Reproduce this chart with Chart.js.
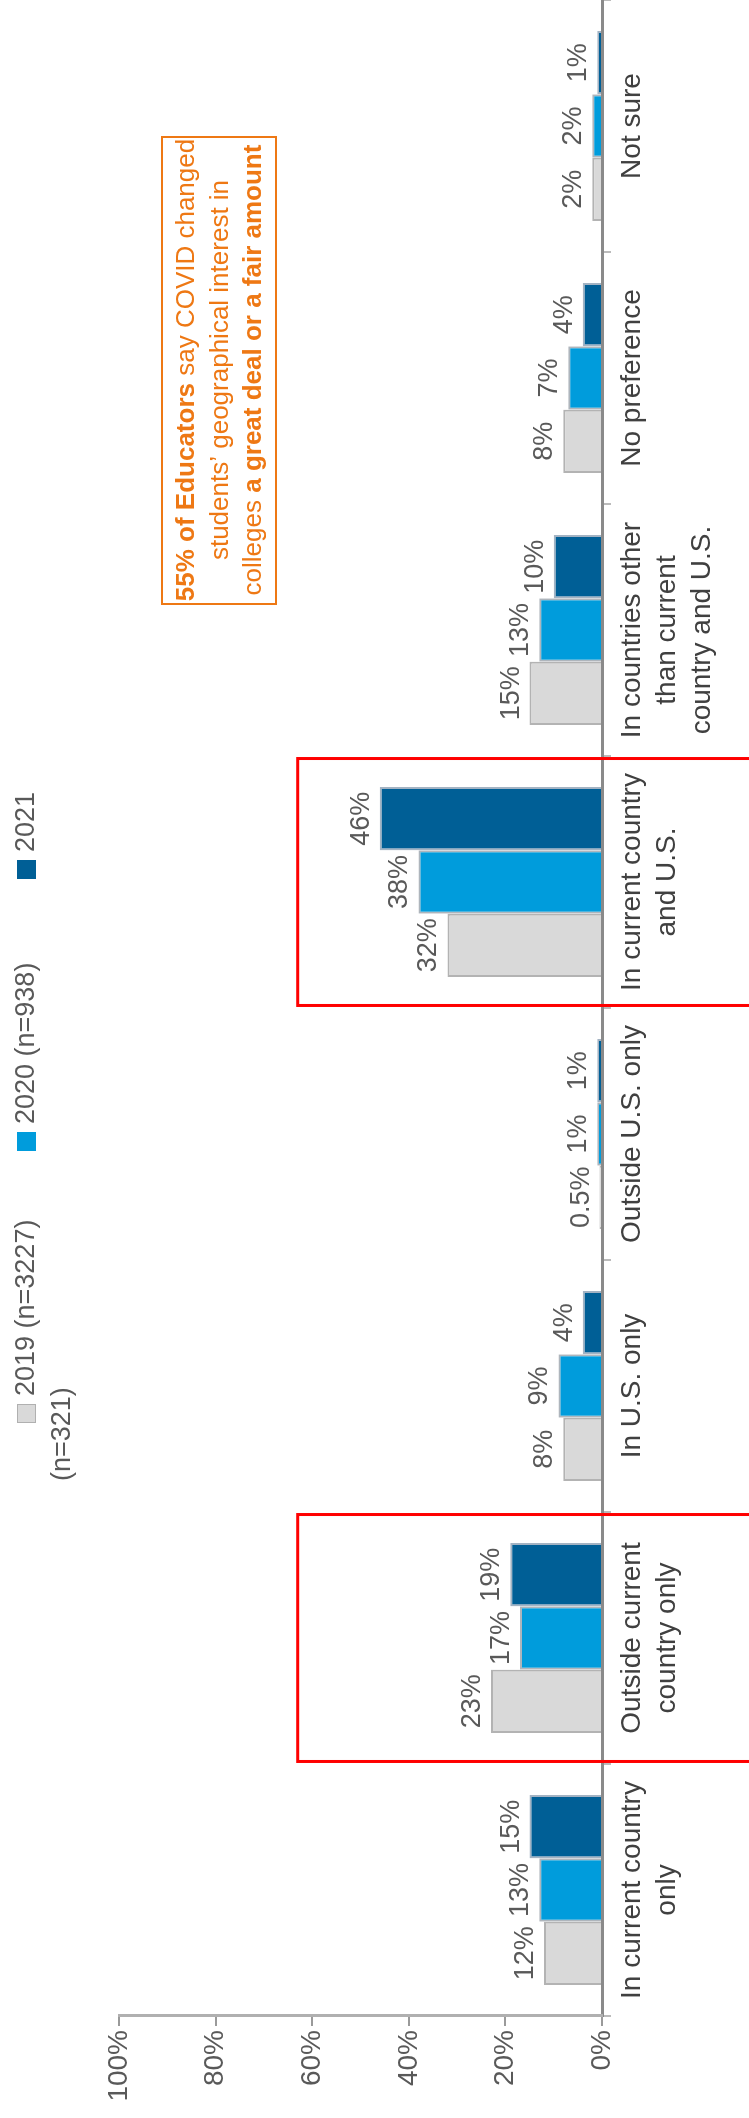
<!DOCTYPE html>
<html>
<head>
<meta charset="utf-8">
<script src="https://cdn.jsdelivr.net/npm/chart.js@4/dist/chart.umd.min.js"></script>
<style>
  html, body { margin: 0; padding: 0; background: #fff; }
  body { width: 749px; height: 2118px; overflow: hidden; position: relative; }
  /* chart is drawn flat (2118 wide) and turned a quarter left */
  #wrap {
    position: absolute; left: 0; top: 0;
    width: 2118px; height: 749px;
    transform-origin: 0 0;
    transform: translateY(2118px) rotate(-90deg);
  }
</style>
</head>
<body>
<div id="wrap"><canvas id="chart" width="2118" height="749"></canvas></div>
<script>
// data
const categories = [
  ["In current country", "only"],
  ["Outside current", "country only"],
  ["In U.S. only"],
  ["Outside U.S. only"],
  ["In current country", "and U.S."],
  ["In countries other", "than current", "country and U.S."],
  ["No preference"],
  ["Not sure"],
];
const seriesNames = ["2019 (n=3227)", "2020 (n=938)", "2021"];
const v2019 = [12, 23, 8, 0.5, 32, 15, 8, 2];
const v2020 = [13, 17, 9, 1, 38, 13, 7, 2];
const v2021 = [15, 19, 4, 1, 46, 10, 4, 1];
const yTicks = [0, 20, 40, 60, 80, 100];
const highlighted = [1, 4]; // red boxes

const FONT = "'Liberation Sans', Arial, sans-serif";
const grey = "#d9d9d9";
const lightBlue = "#009cdc";
const darkBlue = "#005f96";
const orange = "#ee7814";

// value labels on top of each bar
const barLabels = {
  id: "barLabels",
  afterDatasetsDraw(chart) {
    const ctx = chart.ctx;
    ctx.save();
    ctx.font = "27px " + FONT;
    ctx.fillStyle = "#595959";
    ctx.textAlign = "center";
    ctx.textBaseline = "bottom";
    chart.data.datasets.forEach((ds, i) => {
      chart.getDatasetMeta(i).data.forEach((bar, j) => {
        ctx.fillText(ds.data[j] + "%", bar.x, bar.y - 5);
      });
    });
    ctx.restore();
  },
};

// legend laid out like the original (second line "(n=321)" included)
const legendBox = {
  id: "legendBox",
  afterDraw(chart) {
    const ctx = chart.ctx;
    const items = [
      { x: 695, color: grey, border: "#b0b0b0", text: seriesNames[0] },
      { x: 967, color: lightBlue, border: lightBlue, text: seriesNames[1] },
      { x: 1239, color: darkBlue, border: darkBlue, text: seriesNames[2] },
    ];
    ctx.save();
    ctx.font = "27px " + FONT;
    ctx.textBaseline = "middle";
    ctx.textAlign = "left";
    items.forEach(it => {
      ctx.fillStyle = it.color;
      ctx.fillRect(it.x, 17, 19, 19);
      ctx.strokeStyle = it.border;
      ctx.lineWidth = 1;
      ctx.strokeRect(it.x + 0.5, 17.5, 18, 18);
      ctx.fillStyle = "#595959";
      ctx.fillText(it.text, it.x + 27, 27);
    });
    ctx.fillText("(n=321)", 637, 63);
    ctx.restore();
  },
};

// orange call-out and red highlight boxes
const notes = {
  id: "notes",
  afterDraw(chart) {
    const ctx = chart.ctx;
    const x = chart.scales.x, y = chart.scales.y;
    ctx.save();

    const half = (x.getPixelForValue(1) - x.getPixelForValue(0)) * 0.49;
    ctx.strokeStyle = "#ff0000";
    ctx.lineWidth = 3;
    highlighted.forEach(i => {
      const cx = x.getPixelForValue(i);
      const top = y.getPixelForValue(63);
      ctx.strokeRect(cx - half, top, half * 2, 800 - top);
    });

    ctx.strokeStyle = orange;
    ctx.lineWidth = 2;
    ctx.strokeRect(1514, 162, 467, 114);
    const lines = [
      [["55% of Educators", true], [" say COVID changed", false]],
      [["students\u2019 geographical interest in", false]],
      [["colleges ", false], ["a great deal or a fair amount", true]],
    ];
    ctx.fillStyle = orange;
    ctx.textBaseline = "middle";
    ctx.textAlign = "left";
    lines.forEach((parts, k) => {
      let total = 0;
      parts.forEach(p => {
        ctx.font = (p[1] ? "bold " : "") + "26px " + FONT;
        total += ctx.measureText(p[0]).width;
      });
      let px = 1748 - total / 2;
      parts.forEach(p => {
        ctx.font = (p[1] ? "bold " : "") + "26px " + FONT;
        ctx.fillText(p[0], px, 187 + k * 33.5);
        px += ctx.measureText(p[0]).width;
      });
    });
    ctx.restore();
  },
};

new Chart(document.getElementById("chart").getContext("2d"), {
  type: "bar",
  data: {
    labels: categories,
    datasets: [
      { label: seriesNames[0], data: v2019, backgroundColor: grey, borderColor: "#b3b3b3", borderWidth: 2 },
      { label: seriesNames[1], data: v2020, backgroundColor: lightBlue, borderColor: "rgba(140,150,160,0.7)", borderWidth: 2 },
      { label: seriesNames[2], data: v2021, backgroundColor: darkBlue, borderColor: "rgba(140,160,180,0.8)", borderWidth: 2 },
    ],
  },
  options: {
    responsive: false,
    animation: false,
    devicePixelRatio: 1,
    layout: { padding: { top: 119, right: 0, bottom: 0, left: 0 } },
    datasets: { bar: { categoryPercentage: 0.754, barPercentage: 1.0 } },
    plugins: { legend: { display: false }, tooltip: { enabled: false } },
    scales: {
      x: {
        afterFit: s => { s.height = 147; },
        grid: { drawOnChartArea: false, tickLength: 9, color: "#bbbbbb", lineWidth: 2 },
        border: { color: "#8a8a8a", width: 3 },
        ticks: {
          font: { family: FONT, size: 28, lineHeight: 1.25 },
          color: "#404040",
          maxRotation: 0,
          padding: 4,
        },
      },
      y: {
        min: 0,
        max: 100,
        afterFit: s => { s.width = 102; },
        afterBuildTicks: s => { s.ticks = yTicks.map(v => ({ value: v })); },
        grid: { drawOnChartArea: false, tickLength: 10, color: "#9a9a9a", lineWidth: 2 },
        border: { color: "#b0b0b0", width: 3 },
        ticks: {
          font: { family: FONT, size: 28 },
          color: "#595959",
          padding: 4,
          callback: v => v + "%",
        },
      },
    },
  },
  plugins: [barLabels, legendBox, notes],
});
</script>
</body>
</html>
